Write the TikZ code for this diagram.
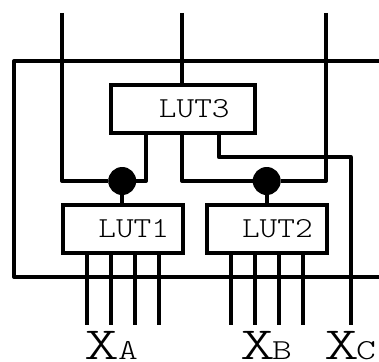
\documentclass[tikz,border=0pt]{standalone}
\usepackage{fontspec}
\newfontfamily\lutfont[FakeStretch=1.16]{Latin Modern Mono Light}
\newfontfamily\bigfont[FakeStretch=1.45]{Latin Modern Mono Light}
\newfontfamily\subfont[FakeStretch=1.3]{Latin Modern Mono Light}
\newcommand{\smallsize}{\lutfont\fontsize{29}{34}\selectfont}
\newcommand{\subsize}{\subfont\fontsize{29}{34}\selectfont}
\newcommand{\bigsize}{\bigfont\fontsize{46}{50}\selectfont}
\begin{document}
\begin{tikzpicture}[x=1pt,y=-1pt,
  wire/.style={draw=black,line width=4pt,line join=round},
  lutbox/.style={draw=black,line width=4pt,inner sep=0pt,minimum height=48pt,anchor=center,font=\smallsize},
  junction/.style={circle,fill=black,draw=none,inner sep=0pt,minimum size=28pt},
  biglabel/.style={anchor=base west,inner sep=0pt,font=\bigsize}]
\useasboundingbox (0,0) rectangle (379,361);
% free ends
\foreach \n/\x/\y in {t1/62/13,t2/182/13,t3/326/13,ol/379/61,ul/379/277,tl/14/61,bl/14/277,
  a1/86.7/325,a2/110.7/325,a3/134.7/325,a4/158.7/325,
  b1/230.7/325,b2/254.7/325,b3/278.7/325,b4/302.7/325,c/350.7/325}
  \coordinate (\n) at (\x,\y);
% boxes
\node[lutbox] (lut3) at (182.8,109) {\makebox[143.6pt][r]{LUT3\hspace{25pt}}};
\node[lutbox] (lut1) at (122.8,229) {\makebox[120.4pt][r]{LUT1\hspace{14pt}}};
\node[lutbox] (lut2) at (266.7,229) {\makebox[120pt][r]{LUT2\hspace{14pt}}};
\node[junction] (d1) at (122.2,181) {};
\node[junction] (d2) at (266.7,181) {};
% outer loop
\draw[wire] (ol) -- (tl) -- (bl) -- (ul);
% top inputs
\draw[wire] (t1) -- (t1 |- d1) -- (d1);
\draw[wire] (t2) -- (t2 |- lut3.north);
\draw[wire] (t3) -- (t3 |- d2) -- (d2);
% LUT3 outputs
\draw[wire] (146,133) -- (146,181) -- (d1);
\draw[wire] (182,133) -- (182,181) -- (d2);
\draw[wire] (218.7,133) -- (218.7,157) -- (c |- 0,157) -- (c);
% stems
\draw[wire] (d1) -- (d1 |- lut1.north);
\draw[wire] (d2) -- (d2 |- lut2.north);
% inputs
\foreach \p in {a1,a2,a3,a4} \draw[wire] (\p |- lut1.south) -- (\p);
\foreach \p in {b1,b2,b3,b4} \draw[wire] (\p |- lut2.south) -- (\p);
% labels
\node[biglabel] (xa) at (84,359.5) {X\kern-1pt\subsize A};
\node[biglabel] (xb) at (240,359.5) {X\kern-3pt\subsize B};
\node[biglabel] (xc) at (324,359.5) {X\kern-3pt\subsize C};
\end{tikzpicture}
\end{document}
